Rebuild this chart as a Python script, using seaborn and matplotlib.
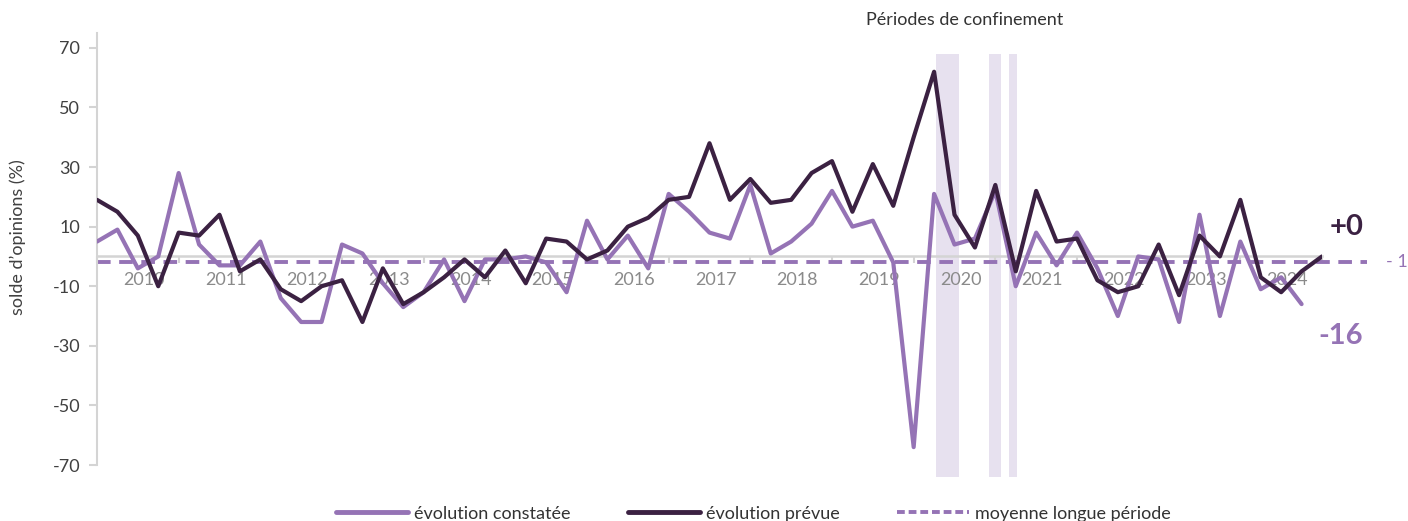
import numpy as np
import pandas as pd
import seaborn as sns
import matplotlib
matplotlib.use("Agg")
import matplotlib.pyplot as plt
from matplotlib.lines import Line2D

# quarterly balance of opinions, 2010Q1 -> 2024Q4 (observed), -> 2025Q1 (expected)
years = [str(y) for y in range(2010, 2025)]
constatee = [5, 9, -4, 0, 28, 4, -3, -3, 5, -14, -22, -22, 4, 1, -9, -17,
             -12, -1, -15, -1, -1, 0, -2, -12, 12, -1, 7, -4, 21, 15, 8, 6,
             24, 1, 5, 11, 22, 10, 12, -2, -64, 21, 4, 6, 22, -10, 8, -3,
             8, -4, -20, 0, -1, -22, 14, -20, 5, -11, -7, -16]
prevue = [19, 15, 7, -10, 8, 7, 14, -5, -1, -11, -15, -10, -8, -22, -4, -16,
          -12, -7, -1, -7, 2, -9, 6, 5, -1, 2, 10, 13, 19, 20, 38, 19,
          26, 18, 19, 28, 32, 15, 31, 17, 40, 62, 14, 3, 24, -5, 22, 5,
          6, -8, -12, -10, 4, -13, 7, 0, 19, -7, -12, -5, 0]
moyenne = -1.9
# lockdown periods (quarter index units)
confinement_debut = [41.1, 43.7, 44.65]
confinement_fin = [42.2, 44.3, 45.05]

violet = "#9573b5"
sombre = "#3b2142"
gris = "#d4d4d4"

df_c = pd.DataFrame({"t": np.arange(len(constatee)), "v": constatee})
df_p = pd.DataFrame({"t": np.arange(len(prevue)), "v": prevue})

sns.set_theme(style="white")
plt.rcParams["font.family"] = ["Lato", "DejaVu Sans"]
plt.rcParams["axes.unicode_minus"] = False

fig = plt.figure(figsize=(14.08, 5.21), dpi=100)
ax = fig.add_axes([97 / 1408, 56 / 521, 1225 / 1408, 432 / 521])

for a, b in zip(confinement_debut, confinement_fin):
    ax.axvspan(a, b, ymin=-0.028, ymax=0.951, color="#e7e1ef", lw=0, clip_on=False, zorder=0)

ax.plot([0, 62.2], [moyenne, moyenne], color=violet, lw=2.8, dashes=(3.5, 2.2),
        clip_on=False, zorder=2)
sns.lineplot(data=df_c, x="t", y="v", color=violet, lw=3, ax=ax, zorder=3)
sns.lineplot(data=df_p, x="t", y="v", color=sombre, lw=3, ax=ax, zorder=4)

ax.set_xlim(0, 60)
ax.set_ylim(-70, 75)
ax.set_xlabel("")
ax.set_ylabel("")

ax.spines["top"].set_visible(False)
ax.spines["right"].set_visible(False)
ax.spines["left"].set_color(gris)
ax.spines["left"].set_linewidth(1.5)
ax.spines["bottom"].set_position(("data", 0))
ax.spines["bottom"].set_color(gris)
ax.spines["bottom"].set_linewidth(1.8)
ax.spines["bottom"].set_zorder(1)

ax.set_yticks(range(-70, 71, 20))
ax.tick_params(axis="y", left=True, length=6, width=1.5, color=gris, pad=6,
               labelsize=13, labelcolor="#404040")

ax.set_xticks(range(0, 61, 4))
ax.set_xticklabels([])
ax.set_xticks([2.3 + 4 * i for i in range(len(years))], minor=True)
ax.set_xticklabels(years, minor=True)
ax.tick_params(axis="x", which="major", bottom=True, length=5, width=1.5, color=gris)
ax.tick_params(axis="x", which="minor", bottom=False, length=0, pad=11,
               labelsize=13, labelcolor="#8a8a8a")
for lab in ax.get_xticklabels(minor=True):
    lab.set_zorder(1)

ax.text(61.2, 9.9, "+0", color=sombre, fontsize=21, fontweight="bold",
        ha="center", va="center", clip_on=False)
ax.text(60.9, -26.8, "-16", color=violet, fontsize=21, fontweight="bold",
        ha="center", va="center", clip_on=False)
fig.text(1386 / 1408, 1 - 262 / 521, "- 1", color=violet, fontsize=13,
         ha="left", va="center")

fig.text(866 / 1408, 1 - 20 / 521, "Périodes de confinement", fontsize=13,
         color="#333333", ha="left", va="center")
fig.text(18 / 1408, 1 - 237 / 521, "solde d’opinions (%)", rotation=90,
         fontsize=13, color="#404040", ha="center", va="center")

handles = [Line2D([], [], color=violet, lw=3.5),
           Line2D([], [], color=sombre, lw=3.5),
           Line2D([], [], color=violet, lw=2.8, dashes=(2, 1))]
fig.legend(handles, ["évolution constatée", "évolution prévue", "moyenne longue période"],
           loc="center", bbox_to_anchor=(0.535, 0.014), ncol=3, frameon=False,
           fontsize=13, handlelength=4, handletextpad=0.3, columnspacing=3.2,
           labelcolor="#333333")

fig.savefig("out.png", dpi=100)
